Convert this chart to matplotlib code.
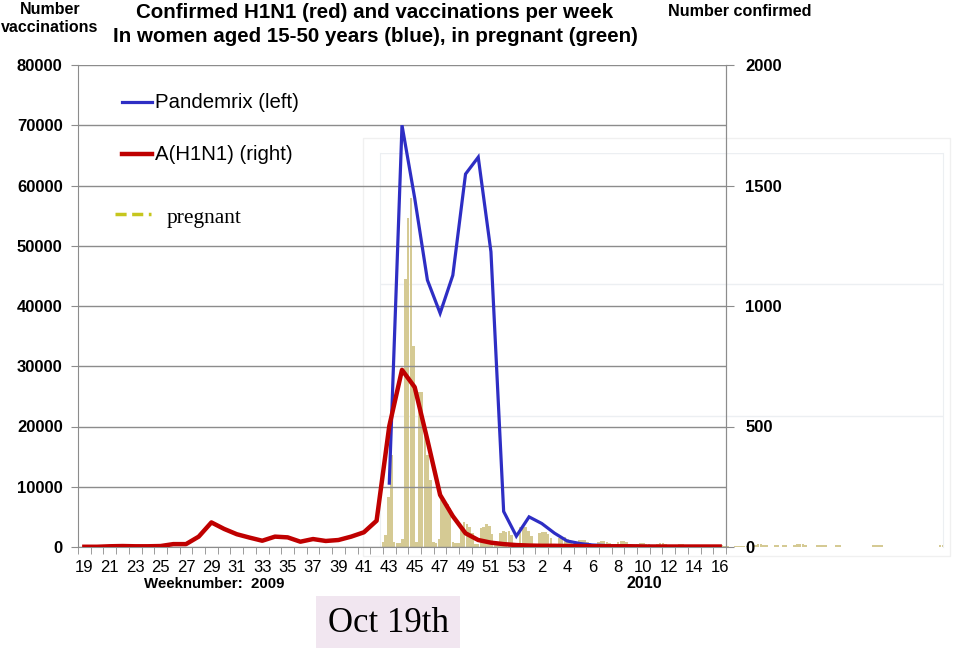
import matplotlib
matplotlib.use('Agg')
import matplotlib.pyplot as plt
import numpy as np
from matplotlib.lines import Line2D
from matplotlib.patches import Rectangle

plt.rcParams['font.family'] = ['Liberation Sans', 'DejaVu Sans']

# week numbers on the category axis (2009 week 19 .. 2010 week 16)
weeks = list(range(19, 54)) + list(range(1, 17))

# Pandemrix vaccinations per week, women 15-50 (left axis), starts week 43
pandemrix = [np.nan] * 24 + [10600, 70000, 57900, 44300, 38800, 45100, 61900, 64700,
                             49000, 5900, 1800, 5000, 3900, 2300, 1000, 580, 330, 250,
                             170, 150, 100, 80, 60, 50, 40, 30, 30]

# confirmed A(H1N1) per week (right axis)
h1n1 = [1, 1, 3, 4, 3, 3, 4, 12, 12, 43,
        102, 75, 53, 39, 26, 43, 40, 22, 33, 25,
        29, 43, 61, 109, 502, 735, 663, 444, 216, 128,
        57, 29, 18, 12, 8, 6, 5, 5, 4, 4,
        3, 3, 3, 3, 2, 2, 2, 2, 2, 2, 2]

# pregnant, daily vaccinations (faint background chart), rows of 7 days
pregnant_daily = [
    40, 92, 382, 702, 40, 30, 30,
    60, 2038, 2504, 2656, 1527, 40, 1183,
    1183, 855, 700, 511, 40, 30, 60,
    359, 344, 330, 298, 40, 30, 30,
    130, 191, 176, 150, 107, 25, 20,
    145, 150, 176, 160, 100, 25, 20,
    110, 120, 115, 120, 90, 20, 15,
    150, 145, 150, 120, 80, 20, 15,
    110, 115, 115, 100, 70, 15, 10,
    70, 76, 76, 60, 40, 10, 10,
    50, 53, 50, 40, 30, 8, 8,
    40, 46, 46, 40, 30, 5, 5,
    40, 46, 46, 35, 25, 5, 5,
    25, 30, 30, 25, 20, 5, 5,
    25, 30, 30, 25, 15, 5, 5,
    15, 20, 20, 15, 10, 3, 3,
    10, 15, 15, 10, 8, 3, 3,
    10, 12, 12, 10, 6, 2, 2,
    5, 5, 5, 5, 5, 0, 0,
    18, 20, 20, 18, 15, 0, 0,
    15, 15, 0, 18, 18, 0, 0,
    18, 20, 20, 20, 18, 0, 0,
    0, 15, 18, 18, 18, 0, 0,
    0, 15, 15, 0, 0, 0, 0,
    0, 0, 0, 0, 0, 0, 0,
    15, 18, 18, 15, 0, 0, 0,
    0, 0, 0, 0, 0, 0, 0,
    0, 0, 0, 0, 0, 0, 0,
    0, 0, 0, 15, 15, 0, 0,
]

W, H = 960, 651


def fx(px):
    return px / W


def fy(py):
    return 1 - py / H


BLUE = '#2e2ec4'
RED = '#bf0000'
GRID = '#8c8c8c'
TAN = '#d5ca94'

fig = plt.figure(figsize=(9.6, 6.51), dpi=100)

# faint pasted chart behind
gx = fig.add_axes([fx(380), fy(547), fx(943) - fx(380), fy(153) - fy(547)], zorder=0)
gx.bar(np.arange(len(pregnant_daily)), pregnant_daily, width=0.92, color=TAN, linewidth=0)
gx.set_xlim(-1.04, 200.04)
gx.set_ylim(0, 3000)
gx.set_yticks([1000, 2000, 3000])
gx.grid(axis='y', color='#eceff2', lw=1)
gx.set_axisbelow(True)
gx.tick_params(left=False, bottom=False, labelleft=False, labelbottom=False)
for s in ['top', 'bottom']:
    gx.spines[s].set_visible(False)
for s in ['left', 'right']:
    gx.spines[s].set_color('#eceff2')
fig.add_artist(Rectangle((fx(363), fy(556)), fx(950) - fx(363), fy(138) - fy(556),
                         transform=fig.transFigure, fill=False, ec='#f0f0f0', lw=1))

# main chart
ax = fig.add_axes([fx(78), fy(547), fx(726) - fx(78), fy(65) - fy(547)], zorder=1)
ax.set_facecolor('none')
x = np.arange(len(weeks))
ax.plot(x, pandemrix, color=BLUE, lw=2.3, solid_joinstyle='miter')
ax.set_xlim(-0.5, 50.5)
ax.set_ylim(0, 80000)
ax.set_yticks(range(0, 80001, 10000))
ax.set_yticklabels([str(v) for v in range(0, 80001, 10000)], fontweight='bold', fontsize=12)
ax.grid(axis='y', color=GRID, lw=1)
ax.set_axisbelow(True)
ax.set_xticks(x[::2])
ax.set_xticklabels([str(weeks[i]) for i in x[::2]], fontsize=12)
ax.set_xticks(np.arange(-0.5, 51, 1), minor=True)
ax.tick_params(axis='x', which='major', length=0, pad=9)
ax.tick_params(axis='x', which='minor', length=5, color=GRID)
ax.tick_params(axis='y', length=5, color=GRID, pad=6)
ax.spines['top'].set_visible(False)
for s in ['left', 'right', 'bottom']:
    ax.spines[s].set_color(GRID)

ax2 = ax.twinx()
ax2.set_zorder(2)
ax2.plot(x, h1n1, color=RED, lw=3.2, solid_joinstyle='round')
ax2.set_ylim(0, 2000)
ax2.set_yticks(range(0, 2001, 500))
ax2.set_yticklabels([str(v) for v in range(0, 2001, 500)], fontweight='bold', fontsize=12)
ax2.tick_params(axis='y', length=6, color=GRID, pad=8)
for s in ['top', 'left', 'bottom']:
    ax2.spines[s].set_visible(False)
ax2.spines['right'].set_color(GRID)

# legend drawn by hand to keep the spacing of the original
fig.add_artist(Line2D([fx(122), fx(152)], [fy(102)] * 2, transform=fig.transFigure,
                      color=BLUE, lw=2.3))
fig.text(fx(155), fy(102), 'Pandemrix (left)', fontsize=14.7, va='center')
fig.add_artist(Line2D([fx(122), fx(152)], [fy(154)] * 2, transform=fig.transFigure,
                      color=RED, lw=3.2))
fig.text(fx(155), fy(154), 'A(H1N1) (right)', fontsize=14.7, va='center')
fig.add_artist(Line2D([fx(115), fx(151)], [fy(214)] * 2, transform=fig.transFigure,
                      color='#c6c61e', lw=2.5, dashes=(3.2, 1.6)))
fig.text(fx(167), fy(218), 'pregnant', fontsize=15.5, va='center',
         family=['Liberation Serif', 'DejaVu Serif'])

# titles and axis captions
fig.text(fx(375), fy(13), 'Confirmed H1N1 (red) and vaccinations per week',
         ha='center', va='center', fontsize=14.8, fontweight='bold')
fig.text(fx(375), fy(37), 'In women aged 15-50 years (blue), in pregnant (green)',
         ha='center', va='center', fontsize=14.8, fontweight='bold')
fig.text(fx(50), fy(10), 'Number', ha='center', va='center', fontsize=11.5, fontweight='bold')
fig.text(fx(50), fy(28), 'vaccinations', ha='center', va='center', fontsize=11.5,
         fontweight='bold')
fig.text(fx(740), fy(12), 'Number confirmed', ha='center', va='center', fontsize=11.6,
         fontweight='bold')
fig.text(fx(214), fy(584), 'Weeknumber:  2009', ha='center', va='center', fontsize=10.8,
         fontweight='bold')
fig.text(fx(644), fy(584), '2010', ha='center', va='center', fontsize=11.5,
         fontweight='bold')

# date annotation box
fig.add_artist(Rectangle((fx(316), fy(648)), fx(460) - fx(316), fy(596) - fy(648),
                         transform=fig.transFigure, fc='#f1e6f0', ec='none'))
fig.text(fx(388), fy(623), 'Oct 19th', ha='center', va='center', fontsize=25,
         family=['Liberation Serif', 'DejaVu Serif'])

fig.savefig('out.png', dpi=100)
